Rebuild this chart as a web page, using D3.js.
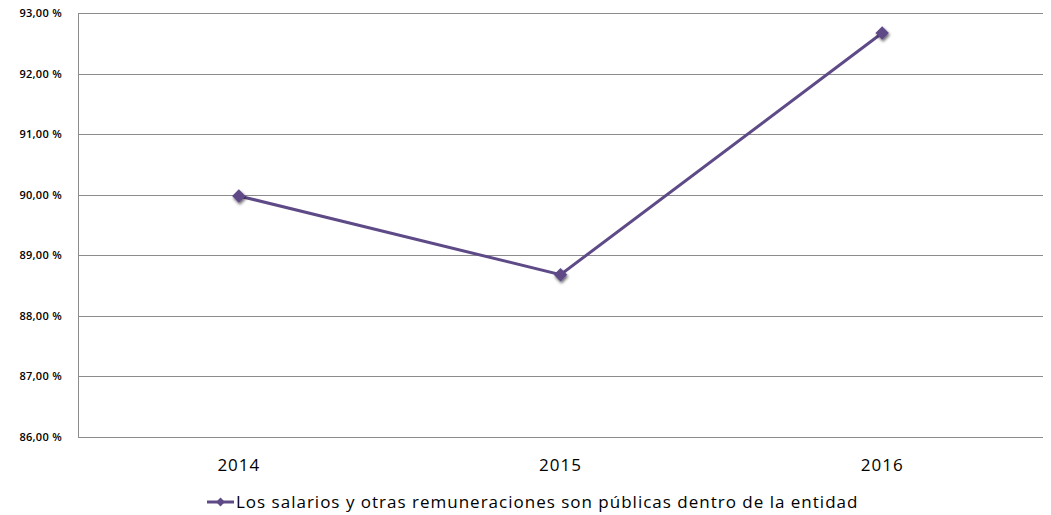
<!DOCTYPE html>
<html>
<head>
<meta charset="utf-8">
<script src="https://cdn.jsdelivr.net/npm/d3@7"></script>
<style>
  body { margin: 0; background: #fff; }
  text { font-family: 'Open Sans', 'Noto Sans', sans-serif; fill: #000; }
</style>
</head>
<body>
<svg id="chart"></svg>
<script>
const years = ['2014', '2015', '2016']
const values = [89.98, 88.68, 92.67]
const yTicks = [86, 87, 88, 89, 90, 91, 92, 93]
const seriesName = 'Los salarios y otras remuneraciones son públicas dentro de la entidad'

const W = 1051
const H = 515
const margin = { top: 13, left: 78, right: 8, bottom: 78 }
const width = W - margin.left - margin.right
const height = H - margin.top - margin.bottom
const lineColor = '#5e4a87'

const svg = d3.select('#chart').attr('width', W).attr('height', H)

const defs = svg.append('defs')
const shadow = defs.append('filter').attr('id', 'shadow')
  .attr('x', '-50%').attr('y', '-50%').attr('width', '200%').attr('height', '200%')
shadow.append('feGaussianBlur').attr('in', 'SourceAlpha').attr('stdDeviation', 1.6)
shadow.append('feOffset').attr('dx', 1).attr('dy', 1.5).attr('result', 'blur')
shadow.append('feComponentTransfer').append('feFuncA').attr('type', 'linear').attr('slope', 0.6)
const merge = shadow.append('feMerge')
merge.append('feMergeNode')
merge.append('feMergeNode').attr('in', 'SourceGraphic')

const g = svg.append('g').attr('transform', `translate(${margin.left},${margin.top})`)

const x = d3.scaleBand().domain(years).range([0, width])
const y = d3.scaleLinear().domain([86, 93]).range([height, 0])

// gridlines
g.append('g')
  .selectAll('line')
  .data(yTicks)
  .join('line')
  .attr('x1', 0).attr('x2', width)
  .attr('y1', d => Math.round(y(d)) + 0.5).attr('y2', d => Math.round(y(d)) + 0.5)
  .attr('stroke', '#8c8c8c').attr('stroke-width', 1)

// y axis
const yAxis = g.append('g')
  .call(d3.axisLeft(y).tickValues(yTicks).tickSize(0).tickPadding(16)
    .tickFormat(d => d3.format('.2f')(d).replace('.', ',') + ' %'))
yAxis.select('.domain').remove()
yAxis.selectAll('text').attr('font-size', 11).attr('font-weight', 600)
  .style('font-family', "'Open Sans', sans-serif")
  .style('letter-spacing', '0.3px')

g.append('line')
  .attr('x1', 0.5).attr('x2', 0.5).attr('y1', 0).attr('y2', height)
  .attr('stroke', '#8c8c8c')

// x axis
const xAxis = g.append('g').attr('transform', `translate(0,${height})`)
  .call(d3.axisBottom(x).tickSize(0).tickPadding(22))
xAxis.select('.domain').remove()
xAxis.selectAll('text').attr('font-size', 17)
  .style('font-family', "'Open Sans', sans-serif")
  .style('letter-spacing', '1px')

// line
const data = years.map((yr, i) => ({ year: yr, value: values[i] }))
const line = d3.line()
  .x(d => x(d.year) + x.bandwidth() / 2)
  .y(d => y(d.value))

g.append('path')
  .datum(data)
  .attr('d', line)
  .attr('fill', 'none')
  .attr('stroke', lineColor)
  .attr('stroke-width', 3)

const diamond = d3.symbol().type(d3.symbolDiamond2).size(115)
g.selectAll('.marker')
  .data(data)
  .join('path')
  .attr('class', 'marker')
  .attr('d', diamond)
  .attr('transform', d => `translate(${x(d.year) + x.bandwidth() / 2},${y(d.value)})`)
  .attr('fill', lineColor)
  .attr('filter', 'url(#shadow)')

// legend
const legend = svg.append('g').attr('transform', `translate(207,502)`)
legend.append('line')
  .attr('x1', 0).attr('x2', 27).attr('y1', 0).attr('y2', 0)
  .attr('stroke', lineColor).attr('stroke-width', 3)
legend.append('path')
  .attr('d', d3.symbol().type(d3.symbolDiamond2).size(50))
  .attr('transform', 'translate(13.5,0)')
  .attr('fill', lineColor)
legend.append('text')
  .attr('x', 29).attr('y', 0).attr('dy', '0.35em')
  .attr('font-size', 17)
  .style('letter-spacing', '1px')
  .text(seriesName)
</script>
</body>
</html>
